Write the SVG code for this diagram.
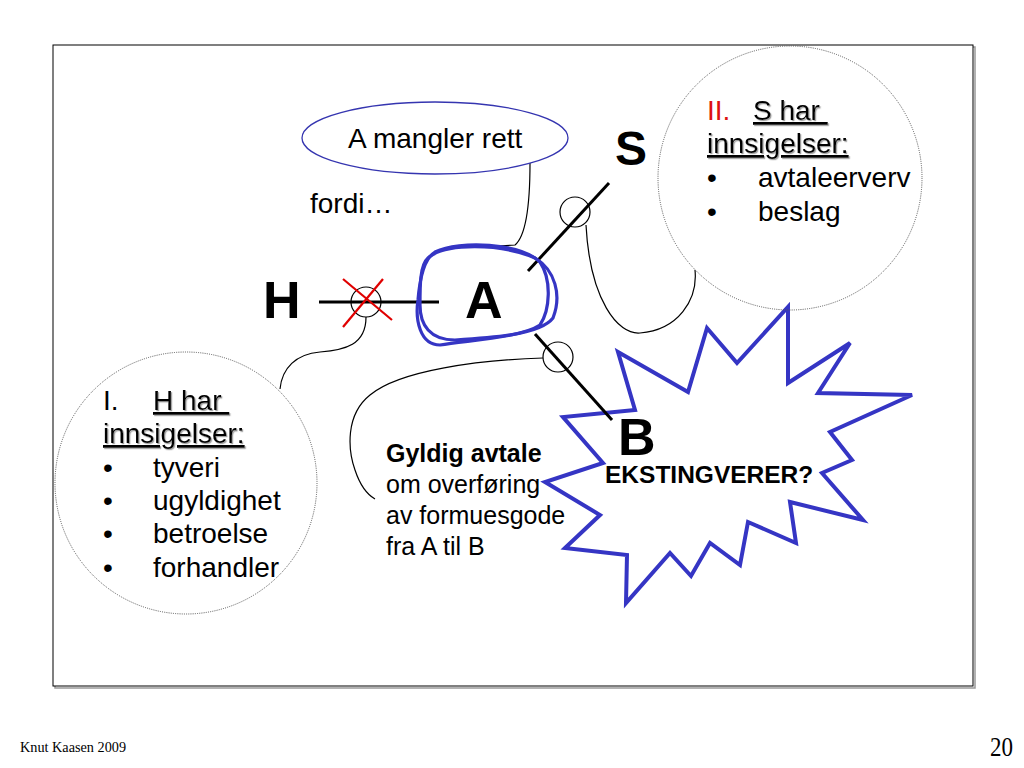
<svg xmlns="http://www.w3.org/2000/svg" width="1024" height="768" viewBox="0 0 1024 768">
  <defs>
    <filter id="shadow" x="-10%" y="-10%" width="130%" height="140%">
      <feDropShadow dx="1.2" dy="1.2" stdDeviation="0.6" flood-color="#888" flood-opacity="0.8"/>
    </filter>
  </defs>
  <style>
    .sans { font-family: "Liberation Sans", Arial, sans-serif; fill: #000; }
    .big { font-size: 52px; font-weight: bold; }
    .t28 { font-size: 28px; }
    .t25 { font-size: 25px; }
    .heading { text-decoration: underline; filter: url(#shadow); }
    .conn { fill: none; stroke: #000; stroke-width: 1.2; }
    .link { fill: none; stroke: #000; stroke-width: 3; }
    .joint { fill: none; stroke: #000; stroke-width: 1.2; }
    .bubble { fill: none; stroke: #555; stroke-width: 1; stroke-dasharray: 1 1.2; }
    .blue { fill: none; stroke: #3535c4; }
  </style>
  <rect width="1024" height="768" fill="#fff"/>

  <g id="frame">
    <rect x="55" y="47" width="920" height="641" fill="none" stroke="#999" stroke-width="1.5"/>
    <rect x="53" y="45" width="920" height="641" fill="#fff" stroke="#000" stroke-width="1"/>
  </g>

  <g id="star">
    <polygon class="blue" stroke-width="4" stroke-linejoin="miter" points="618,352 688,392 707,328 737,363 788,307 788,383 850,343 818,393 912,395 830,432 852,460 822,473 863,520 790,502 796,543 748,522 740,565 710,543 691,576 670,553 626,603 627,555 565,548 600,515 545,482 603,463 563,417 635,410"/>
  </g>

  <g id="connectors">
    <line class="link" x1="319" y1="302" x2="439" y2="302"/>
    <line class="link" x1="528" y1="271" x2="609" y2="183"/>
    <line class="link" x1="535" y1="334" x2="612" y2="420"/>
    <circle class="joint" cx="366" cy="302" r="15"/>
    <circle class="joint" cx="575" cy="212" r="15"/>
    <circle class="joint" cx="558" cy="357" r="15"/>
    <path class="conn" d="M366,317 C366,345 345,350 320,352 C296,354 282,368 280,389"/>
    <path class="conn" d="M586,225 C590,300 618,335 640,333 C678,330 698,300 695,270"/>
    <path class="conn" d="M543,358 C480,360 400,370 370,395 C345,415 348,450 355,470 C360,485 368,495 375,499"/>
    <path class="conn" d="M530,163 C530,200 527,235 515,245 L497,246"/>
  </g>

  <g id="cross">
    <line x1="343" y1="279" x2="392" y2="320" stroke="#e00000" stroke-width="2.2"/>
    <line x1="343" y1="327" x2="383" y2="279" stroke="#e00000" stroke-width="2.2"/>
  </g>

  <g id="node-A">
    <path class="blue" stroke-width="3.2" d="M435,252 C460,240 520,243 540,262 C552,280 550,310 540,325 C520,338 470,340 440,345 C420,345 415,320 418,300 C420,275 425,258 435,252 Z"/>
    <path class="blue" stroke-width="3.2" d="M428,258 C445,243 500,243 535,258 C555,270 562,295 553,318 C540,335 490,338 455,340 C430,340 420,325 420,305 C420,285 420,265 428,258 Z"/>
    <text class="sans big" x="465" y="318">A</text>
  </g>

  <g id="node-H">
    <text class="sans big" x="263" y="318">H</text>
  </g>

  <g id="node-S">
    <text class="sans" x="615" y="165" font-size="48" font-weight="bold">S</text>
  </g>

  <g id="node-B">
    <text class="sans big" x="618" y="455">B</text>
    <text class="sans" x="605" y="483" font-size="24.5" font-weight="bold">EKSTINGVERER?</text>
  </g>

  <g id="callout-mangler">
    <ellipse cx="435" cy="138" rx="133" ry="36" fill="none" stroke="#3535b0" stroke-width="1.3"/>
    <text class="sans t28" x="348" y="148">A mangler rett</text>
  </g>

  <g id="label-fordi">
    <text class="sans t28" x="310" y="213">fordi…</text>
  </g>

  <g id="bubble-H">
    <circle class="bubble" cx="186" cy="483" r="131"/>
    <text class="sans t28" x="103" y="410">I.</text>
    <text class="sans t28 heading" x="153" y="410">H har&#160;</text>
    <text class="sans t28 heading" x="103" y="443">innsigelser:</text>
    <text class="sans t28" x="103" y="477">•</text>
    <text class="sans t28" x="153" y="477">tyveri</text>
    <text class="sans t28" x="103" y="510">•</text>
    <text class="sans t28" x="153" y="510">ugyldighet</text>
    <text class="sans t28" x="103" y="543">•</text>
    <text class="sans t28" x="153" y="543">betroelse</text>
    <text class="sans t28" x="103" y="577">•</text>
    <text class="sans t28" x="153" y="577">forhandler</text>
  </g>

  <g id="bubble-S">
    <circle class="bubble" cx="790" cy="178" r="132"/>
    <text class="sans t28" x="707" y="120" fill="#dd1111" style="fill:#dd1111">II.</text>
    <text class="sans t28 heading" x="753" y="120">S har&#160;</text>
    <text class="sans t28 heading" x="707" y="153">innsigelser:</text>
    <text class="sans t28" x="707" y="187">•</text>
    <text class="sans t28" x="758" y="187">avtaleerverv</text>
    <text class="sans t28" x="707" y="221">•</text>
    <text class="sans t28" x="758" y="221">beslag</text>
  </g>

  <g id="label-avtale">
    <text class="sans t25" x="386" y="462" font-weight="bold">Gyldig avtale</text>
    <text class="sans t25" x="386" y="493">om overføring</text>
    <text class="sans t25" x="386" y="524">av formuesgode</text>
    <text class="sans t25" x="386" y="555">fra A til B</text>
  </g>

  <g id="footer">
    <text x="20" y="752" font-family="Liberation Serif, Times New Roman, serif" font-size="14" textLength="106" lengthAdjust="spacingAndGlyphs">Knut Kaasen 2009</text>
    <text x="990" y="756" font-family="Liberation Serif, Times New Roman, serif" font-size="27" textLength="23" lengthAdjust="spacingAndGlyphs">20</text>
  </g>
</svg>
